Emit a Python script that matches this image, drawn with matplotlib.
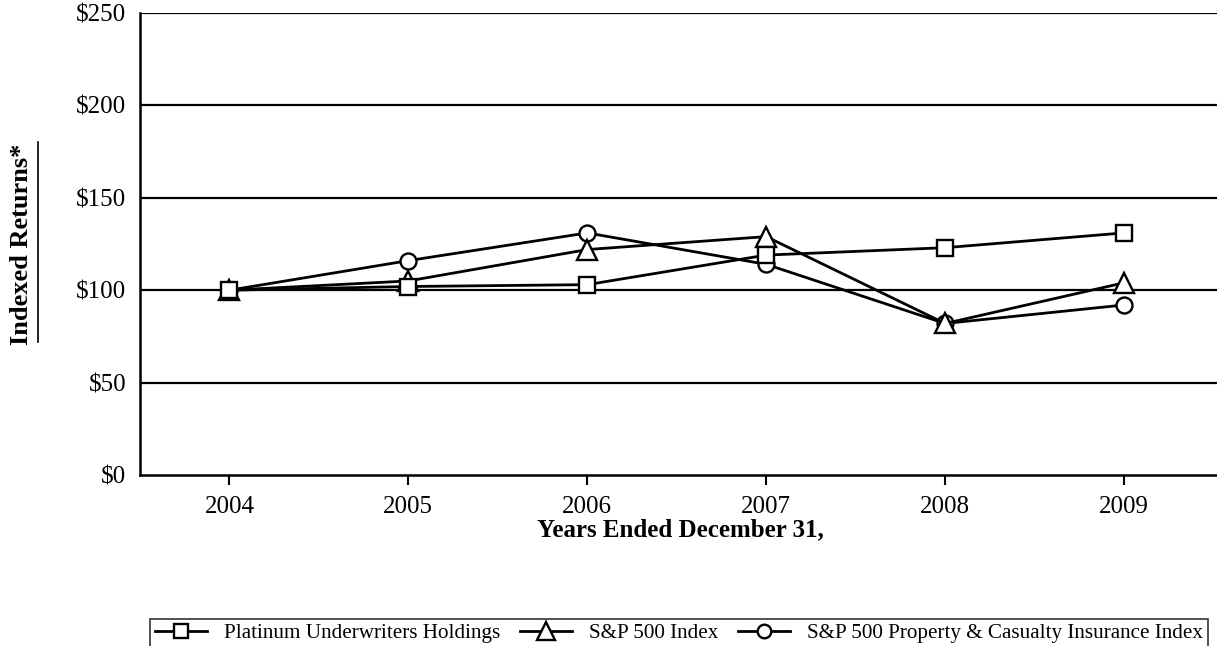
import matplotlib
matplotlib.use('Agg')
import matplotlib.pyplot as plt
from matplotlib.lines import Line2D

plt.rcParams['font.family'] = ['Liberation Serif', 'DejaVu Serif']

# veriler
years = [2004, 2005, 2006, 2007, 2008, 2009]
platinum = [100, 102, 103, 119, 123, 131]
sp500 = [100, 105, 122, 129, 82, 104]
sp_pc = [100, 116, 131, 114, 82, 92]
y_ticks = [0, 50, 100, 150, 200, 250]
y_labels = ['$0', '$50', '$100', '$150', '$200', '$250']

W, H = 1217, 646
fig = plt.figure(figsize=(W / 100, H / 100), dpi=100)
ax = fig.add_axes([140 / W, (H - 475) / H, (W - 140) / W, (475 - 13) / H])

for v in y_ticks[1:]:
    ax.axhline(v, color='black', lw=1.6, zorder=1)

ms = 11.5
lw = 2.0
# cizim sirasi: daire en altta, kare en ustte
ax.plot(years, sp_pc, color='black', lw=lw, marker='o', ms=ms, mfc='white',
        mec='black', mew=1.7, label='S&P 500 Property & Casualty Insurance Index', zorder=3)
ax.plot(years, sp500, color='black', lw=lw, marker='^', ms=ms + 3, mfc='white',
        mec='black', mew=1.7, label='S&P 500 Index', zorder=4)
ax.plot(years, platinum, color='black', lw=lw, marker='s', ms=ms, mfc='white',
        mec='black', mew=1.7, label='Platinum Underwriters Holdings', zorder=5)

ax.set_xlim(2003.5, 2009.52)
ax.set_ylim(0, 250)
ax.set_xticks(years)
ax.set_yticks(y_ticks)
ax.set_yticklabels(y_labels)
ax.tick_params(axis='x', length=7, width=1.5, labelsize=18, pad=8)
ax.tick_params(axis='y', length=0, labelsize=18, pad=10)

for s in ['top', 'right']:
    ax.spines[s].set_visible(False)
ax.spines['left'].set_linewidth(1.8)
ax.spines['bottom'].set_linewidth(1.8)

fig.text(680 / W, 1 - 530 / H, 'Years Ended December 31,', ha='center', va='center',
         fontsize=18, fontweight='bold')
fig.text(22 / W, 1 - 244 / H, 'Indexed Returns*', ha='center', va='center',
         rotation=90, fontsize=19, fontweight='bold')
fig.lines.append(Line2D([38 / W, 38 / W], [1 - 342 / H, 1 - 142 / H],
                        transform=fig.transFigure, color='black', lw=1.2))

h, l = ax.get_legend_handles_labels()
order = [2, 1, 0]
leg = fig.legend([h[i] for i in order], [l[i] for i in order], loc='center',
                 bbox_to_anchor=(679 / W, 1 - 633 / H), ncol=3,
                 frameon=True, fancybox=False, edgecolor='black', fontsize=15.2,
                 handlelength=2.5, columnspacing=0.9, borderpad=0.2,
                 handletextpad=0.8, markerscale=0.85)
leg.get_frame().set_linewidth(1.2)

fig.savefig('out.png', dpi=100)
